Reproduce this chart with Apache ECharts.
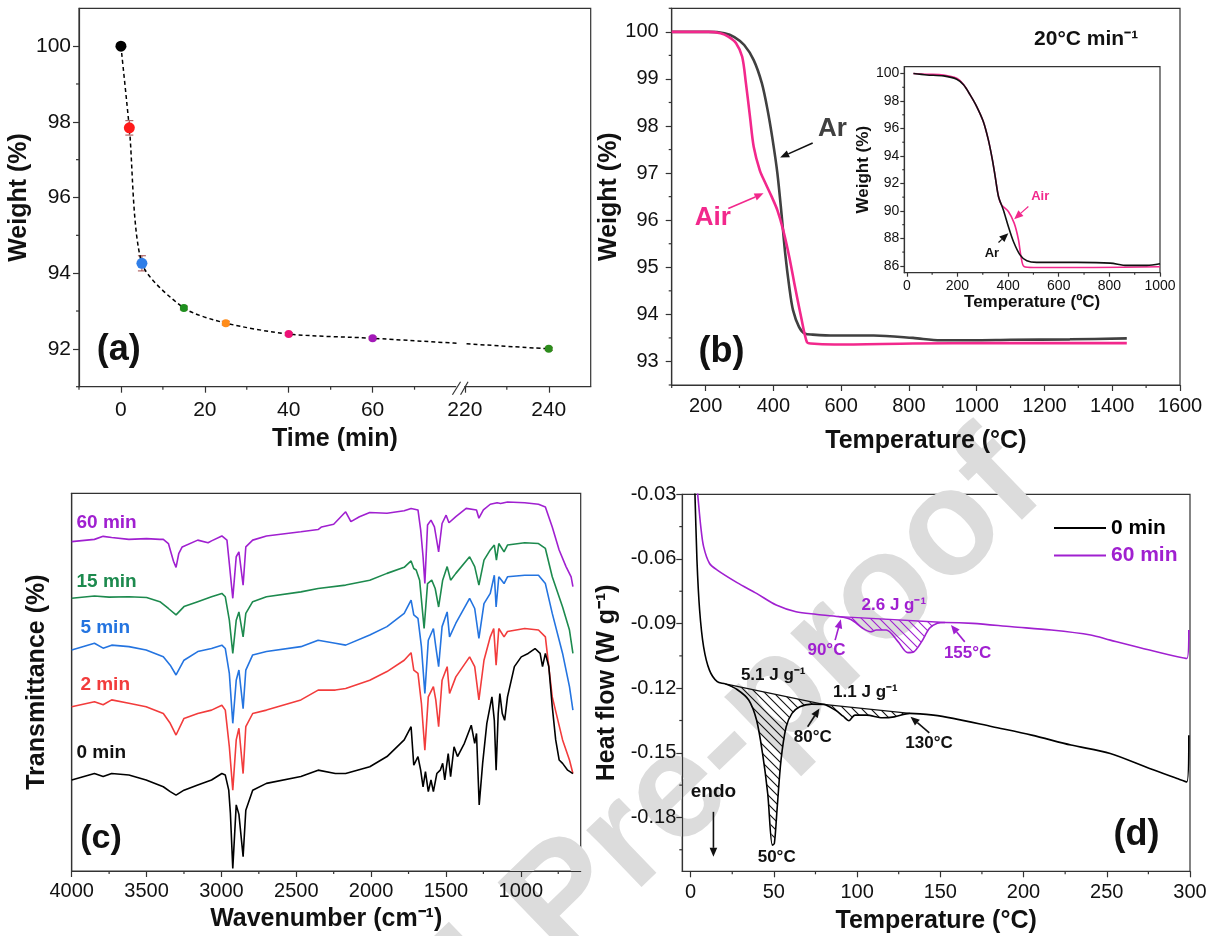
<!DOCTYPE html>
<html><head><meta charset="utf-8">
<script src="https://cdn.jsdelivr.net/npm/echarts@6/dist/echarts.min.js"></script>
<style>html,body{margin:0;padding:0;background:#fff}#c{width:1215px;height:936px}</style>
</head><body><div id="c"></div><script>
const FONT = '"Liberation Sans", Arial, sans-serif';
const NARROW = '"Liberation Sans Narrow", "Liberation Sans", Arial, sans-serif';
const AX = '#333';

// ---------- (a) weight vs time ----------
const aTimes  = [0, 2, 5, 15, 25, 40, 60, 240];
const aWeight = [100, 97.84, 94.26, 93.08, 92.68, 92.39, 92.28, 92.00];
const aErr    = [0.03, 0.19, 0.20, 0.05, 0.05, 0.04, 0.04, 0.04];
const aColors = ['#000000', '#ff1a1a', '#2f7ee8', '#1f8f1f', '#ff8c1a', '#ee1177', '#a319b8', '#2c8c1c'];
const aXTickTimes = [0, 20, 40, 60, 220, 240];
const aXMinorTimes = [-10, 10, 30, 50, 70, 230];
const aYTicks = [92, 94, 96, 98, 100];
const aYMinor = [91, 93, 95, 97, 99];
const BREAK_GAP = 138;               // axis break between 60 and 220 min
function aPos(t) { return t > 100 ? t - BREAK_GAP : t; }

// ---------- (b) TGA ----------
const bArT  = [100,209,256,285,314,342,366,383,398,412,424,435,447,458,476,493,516,580,696,812,893,986,1100,1275,1443];
const bArW  = [100,100,99.97,99.89,99.72,99.40,98.91,98.34,97.70,96.99,96.14,95.29,94.58,94.09,93.73,93.59,93.57,93.55,93.55,93.50,93.45,93.45,93.46,93.47,93.49];
const bAirT = [100,209,244,267,290,308,319,331,342,360,377,395,412,429,447,464,482,499,510,580,812,1043,1443];
const bAirW = [100,100,99.97,99.90,99.76,99.47,98.91,98.20,97.56,97.06,96.78,96.50,96.21,95.79,95.22,94.58,93.94,93.41,93.38,93.36,93.38,93.39,93.39];
const bXTicks = [200,400,600,800,1000,1200,1400,1600];
const bXMinor = [100,300,500,700,900,1100,1300,1500];
const bYTicks = [93,94,95,96,97,98,99,100];
const bYMinor = [92.5,93.5,94.5,95.5,96.5,97.5,98.5,99.5,100.5];
// inset
const iArT  = [26,79,145,197,224,250,276,302,322,338,349,362,381,401,421,447,474,513,671,803,869,948,1000];
const iArW  = [100,99.9,99.83,99.59,99.18,98.45,97.6,96.51,95.17,93.72,92.5,91.05,90.08,88.86,87.77,86.8,86.37,86.25,86.25,86.2,86.03,86.03,86.15];
const iAirT = [26,79,145,197,224,250,276,302,322,338,349,362,374,401,424,441,451,463,500,737,1000];
const iAirW = [100,99.95,99.9,99.66,99.2,98.45,97.6,96.51,95.17,93.72,92.5,91.05,90.44,89.96,89.11,87.9,86.68,85.95,85.88,85.88,85.93];
const iXTicks = [0,200,400,600,800,1000];
const iXMinor = [100,300,500,700,900];
const iYTicks = [86,88,90,92,94,96,98,100];
const iYMinor = [87,89,91,93,95,97,99];

// ---------- (c) FTIR (wavenumber, transmittance a.u.) ----------
const ftir60 = [[4000,87.2],[3848,87.8],[3790,88.6],[3733,88.3],[3618,87.8],[3500,88.0],[3411,87.8],[3388,87.8],[3354,86.7],[3320,82],[3303,80.4],[3285,84],[3262,85.8],[3158,87.6],[3089,86.9],[3066,87.4],[2997,88.7],[2963,87.6],[2947,81.4],[2924,72.2],[2901,83.2],[2883,84.5],[2855,75.7],[2837,85.8],[2791,87.6],[2699,88.7],[2469,89.8],[2354,90.4],[2331,91.1],[2250,91.8],[2170,95.1],[2135,92.5],[2078,93.8],[2009,94.9],[1894,94.7],[1779,95.4],[1733,96.0],[1687,95.6],[1669,90.3],[1653,83.2],[1641,76.1],[1623,91.6],[1600,92.9],[1577,91.1],[1549,84.5],[1526,92.0],[1499,94.2],[1480,92.2],[1434,93.8],[1365,96.0],[1296,95.6],[1280,93.4],[1250,95.6],[1204,97.1],[1158,97.5],[1135,97.3],[1089,97.7],[974,97.5],[882,97.1],[836,96.4],[790,91.1],[744,85.0],[698,80.6],[664,77.9],[652,75.3]];
const ftir15 = [[4000,72.2],[3848,72.8],[3750,72.5],[3618,72.6],[3500,72.4],[3411,71.3],[3354,69.5],[3303,67.8],[3250,70.0],[3158,71.3],[3066,72.6],[2997,73.5],[2974,72.6],[2947,66.4],[2924,57.6],[2901,66.4],[2883,68.6],[2855,62.0],[2837,68.2],[2791,71.3],[2699,72.6],[2469,73.9],[2354,74.8],[2170,75.7],[2009,77.0],[1894,78.8],[1779,80.4],[1733,82.1],[1715,80.1],[1699,79.7],[1676,77.0],[1646,64.2],[1623,76.1],[1595,77.0],[1572,74.8],[1549,69.9],[1522,77.0],[1492,80.6],[1469,77.0],[1434,78.8],[1342,83.2],[1308,80.6],[1280,75.7],[1246,82.3],[1204,85.0],[1177,86.3],[1163,82.3],[1147,86.7],[1112,84.5],[1089,86.3],[974,86.9],[882,86.7],[836,85.4],[790,77.9],[721,69.9],[675,63.8],[652,57.6]];
const ftir5 = [[4000,58.5],[3848,60.3],[3790,59.0],[3733,59.8],[3618,59.4],[3503,58.5],[3388,56.7],[3342,54.5],[3303,51.9],[3250,55.8],[3158,58.1],[3066,58.9],[2997,59.8],[2974,58.9],[2947,52.3],[2924,39.1],[2901,50.5],[2883,53.2],[2855,43.0],[2837,53.2],[2791,57.2],[2699,58.1],[2469,59.4],[2354,61.1],[2239,60.3],[2170,59.8],[2009,62.5],[1894,64.7],[1779,68.2],[1733,71.7],[1715,67.8],[1687,66.9],[1664,59.4],[1641,47.0],[1618,61.1],[1584,64.2],[1568,59.4],[1549,54.1],[1526,64.7],[1492,68.6],[1476,62.0],[1434,65.6],[1342,72.2],[1308,69.5],[1280,61.6],[1246,70.8],[1204,73.5],[1177,78.3],[1165,69.9],[1147,77.9],[1112,76.1],[1089,77.9],[974,78.3],[882,78.3],[836,76.1],[790,68.2],[721,57.6],[675,48.8],[652,42.6]];
const ftir2 = [[4000,43.5],[3848,44.8],[3790,44.0],[3733,45.3],[3618,44.4],[3503,43.5],[3388,41.7],[3342,39.1],[3303,36.0],[3250,40.4],[3158,41.7],[3066,42.6],[2997,43.9],[2974,42.6],[2947,32.9],[2924,21.4],[2901,34.7],[2883,37.8],[2855,25.8],[2837,38.2],[2791,41.7],[2699,42.6],[2469,45.3],[2354,47.9],[2239,47.9],[2170,48.3],[2009,50.5],[1894,52.8],[1779,55.8],[1733,57.8],[1715,53.2],[1687,52.3],[1664,44.4],[1641,32.0],[1618,46.1],[1584,48.8],[1568,45.3],[1549,38.2],[1526,50.5],[1492,54.1],[1476,47.0],[1434,51.4],[1342,56.7],[1308,54.1],[1280,45.3],[1246,55.8],[1204,62.0],[1181,64.2],[1165,54.5],[1147,64.2],[1112,62.0],[1089,63.4],[974,64.2],[882,63.8],[836,62.0],[790,46.1],[721,34.7],[675,29.4],[652,25.8]];
const ftir0 = [[4000,24.1],[3848,25.8],[3790,25.0],[3733,25.8],[3618,25.4],[3503,24.1],[3388,22.3],[3342,21.0],[3303,20.1],[3250,21.4],[3158,22.8],[3066,24.1],[2997,25.8],[2974,25.4],[2951,21.4],[2940,15.3],[2924,0.7],[2901,17.5],[2883,15.0],[2855,3.8],[2837,16.1],[2791,21.4],[2699,23.2],[2469,25.0],[2354,26.7],[2239,25.8],[2170,25.8],[2009,27.6],[1894,30.3],[1779,34.7],[1733,38.2],[1715,28.0],[1687,30.3],[1669,26.7],[1653,22.3],[1637,26.3],[1618,21.0],[1600,24.1],[1584,21.0],[1561,25.8],[1538,26.7],[1522,28.5],[1508,24.1],[1485,31.1],[1469,25.0],[1446,32.9],[1423,30.3],[1377,33.8],[1331,38.6],[1308,33.8],[1296,36.4],[1278,17.5],[1255,28.5],[1227,39.1],[1193,46.1],[1177,39.9],[1165,26.7],[1151,41.7],[1140,47.0],[1124,41.7],[1108,39.9],[1089,46.1],[1043,54.1],[997,56.7],[951,57.6],[905,58.9],[871,57.6],[855,54.1],[836,57.6],[813,54.1],[790,43.5],[767,34.7],[744,29.4],[721,28.5],[687,26.7],[652,25.8]];
const cXTicks = [4000,3500,3000,2500,2000,1500,1000];
const cXMinor = [3750,3250,2750,2250,1750,1250,750];

// ---------- (d) DSC ----------
const dscT0  = [2.2,2.6,3.8,5.4,7.8,11.3,16.0,20.8,27.9,34.9,39.6,43.2,46.3,49.1,50.3,51.9,54.3,57.4,60.9,65.6,72.7,79.8,86.9,91.6,95.1,98.7,105.7,115.2,122.3,131.7,145.9,157.7,181.3,204.9,228.5,252.1,275.7,292.2,298.1,299.3];
const dscV0  = [-0.025,-0.030,-0.0605,-0.0837,-0.1008,-0.1116,-0.117,-0.118,-0.1206,-0.1255,-0.1348,-0.1503,-0.1689,-0.1929,-0.1921,-0.1766,-0.1534,-0.1379,-0.1317,-0.1286,-0.1274,-0.1275,-0.1302,-0.1330,-0.1351,-0.1325,-0.1325,-0.1337,-0.1333,-0.1317,-0.1325,-0.134,-0.1379,-0.1418,-0.1464,-0.1503,-0.1573,-0.1619,-0.1635,-0.1418];
const dscT60 = [3.6,4.25,6.1,7.8,11.3,16.0,27.9,39.6,51.4,63.3,75.1,89.2,96.3,103.4,108.1,111.6,117.5,124.6,130.5,134.1,138.8,143.5,148.2,152.9,169.5,193.1,216.7,240.3,252.1,275.7,298.1,299.3];
const dscV60 = [-0.025,-0.030,-0.045,-0.0543,-0.062,-0.0652,-0.071,-0.076,-0.0814,-0.0845,-0.0857,-0.0868,-0.0881,-0.0922,-0.0938,-0.093,-0.093,-0.0984,-0.1035,-0.1031,-0.0984,-0.0922,-0.0899,-0.0895,-0.0899,-0.0915,-0.093,-0.0953,-0.0977,-0.1023,-0.1062,-0.093];
const base0a = [[20.8,-0.118],[79.8,-0.1275]];
const base0b = [[79.8,-0.1275],[131.7,-0.1317]];
const base60 = [[89.2,-0.0868],[152.9,-0.0895]];
const dXTicks = [0,50,100,150,200,250,300];
const dXMinor = [25,75,125,175,225,275];
const dYTicks = [-0.03,-0.06,-0.09,-0.12,-0.15,-0.18];
const dYMinor = [-0.045,-0.075,-0.105,-0.135,-0.165,-0.195];

const PURPLE = '#a020d0', GREEN = '#1d8a4e', BLUE = '#2474e0', RED = '#f23c3c', PINK = '#f2288c', DARK = '#404040';

// ---------- helpers ----------
function nameStyle(fs) { return {fontSize: fs, fontWeight: 'bold', fontFamily: FONT, color: '#111'}; }
function mkAxis(g, dim, min, max, ticks, labels, o) {
  return {
    type: 'value', gridIndex: g, min: min, max: max, inverse: !!o.inverse,
    position: dim === 'x' ? 'bottom' : 'left',
    axisLine: {show: true, onZero: false, lineStyle: {color: AX, width: 1.2}},
    axisTick: {show: ticks.length > 0, length: o.tl || 6, customValues: ticks.length ? ticks : undefined, lineStyle: {color: AX, width: 1.2}},
    axisLabel: {show: labels.length > 0, customValues: labels.length ? labels : undefined, formatter: o.fmt || (v => String(v)),
      fontSize: o.fs || 20, color: '#111', margin: o.margin, fontFamily: FONT},
    splitLine: {show: false},
    name: o.name, nameLocation: 'middle', nameGap: o.gap, nameTextStyle: nameStyle(o.nfs || 25)
  };
}
function minorTicks(g, dim, values, other, len) {
  return {type: 'custom', xAxisIndex: g, yAxisIndex: g, silent: true, clip: false, z: 3,
    data: values.map(v => dim === 'x' ? [v, other] : [other, v]),
    renderItem: (p, api) => {
      const c = api.coord([api.value(0), api.value(1)]);
      const shape = dim === 'x' ? {x1: c[0], y1: c[1], x2: c[0], y2: c[1] + len}
                                : {x1: c[0], y1: c[1], x2: c[0] - len, y2: c[1]};
      return {type: 'line', shape: shape, style: {stroke: AX, lineWidth: 1.2}};
    }};
}
function hatchCanvas(color) {
  const s = 9, c = document.createElement('canvas'); c.width = s; c.height = s;
  const g = c.getContext('2d'); g.strokeStyle = color; g.lineWidth = 1.1;
  g.beginPath(); g.moveTo(0, 0); g.lineTo(s, s); g.moveTo(s - 1, -1); g.lineTo(s + 1, 1); g.moveTo(-1, s - 1); g.lineTo(1, s + 1); g.stroke();
  return c;
}
function hatchSeries(g, T, V, base, color) {
  const pts = [];
  for (let i = 0; i < T.length; i++) if (T[i] > base[0][0] && T[i] < base[1][0]) pts.push([T[i], V[i]]);
  const img = hatchCanvas(color);
  return {type: 'custom', xAxisIndex: g, yAxisIndex: g, silent: true, z: 1, data: [base[0]],
    renderItem: (p, api) => {
      const poly = [api.coord(base[0])].concat(pts.map(q => api.coord(q)), [api.coord(base[1])]);
      const b0 = api.coord(base[0]), b1 = api.coord(base[1]);
      return {type: 'group', children: [
        {type: 'polygon', shape: {points: poly}, style: {fill: {image: img, repeat: 'repeat'}, stroke: null}},
        {type: 'line', shape: {x1: b0[0], y1: b0[1], x2: b1[0], y2: b1[1]}, style: {stroke: color, lineWidth: 1.3}}
      ]};
    }};
}
function zip(T, V) { return T.map((t, i) => [t, V[i]]); }

// ---------- grids ----------
const grids = [
  {left: 79, top: 8.3, width: 511.7, height: 378.4},
  {left: 671.7, top: 8.3, width: 508.3, height: 376.7},
  {left: 904.3, top: 66.7, width: 255.7, height: 206, backgroundColor: '#fff'},
  {left: 71.7, top: 493.3, width: 509, height: 377.7},
  {left: 682.3, top: 494.3, width: 507.7, height: 377}
].map(g => Object.assign({show: true, borderColor: AX, borderWidth: 1.2, containLabel: false}, g));

const xAxes = [
  mkAxis(0, 'x', -10, 112, aXTickTimes.map(aPos), aXTickTimes.map(aPos), {fmt: v => String(v > 70 ? v + BREAK_GAP : v), fs: 21, margin: 13, name: 'Time (min)', gap: 40}),
  mkAxis(1, 'x', 100, 1600, bXTicks, bXTicks, {margin: 11, name: 'Temperature (°C)', gap: 44}),
  mkAxis(2, 'x', -10, 1000, iXTicks, iXTicks, {fs: 14, margin: 6, tl: 4, name: 'Temperature (ºC)', nfs: 17, gap: 20}),
  mkAxis(3, 'x', 600, 4000, cXTicks, cXTicks, {inverse: true, margin: 10, name: 'Wavenumber (cm⁻¹)', gap: 36}),
  mkAxis(4, 'x', -5, 300, dXTicks, dXTicks, {margin: 11, name: 'Temperature (°C)', gap: 37}),
];
const yAxes = [
  mkAxis(0, 'y', 91, 101, aYTicks, aYTicks, {fs: 21, margin: 8, name: 'Weight (%)', gap: 44}),
  mkAxis(1, 'y', 92.5, 100.5, bYTicks, bYTicks, {margin: 13, name: 'Weight (%)', gap: 47}),
  mkAxis(2, 'y', 85.5, 100.5, iYTicks, iYTicks, {fs: 14, margin: 5, tl: 4, name: 'Weight (%)', nfs: 17, gap: 26}),
  mkAxis(3, 'y', 0, 100, [], [], {name: 'Transmittance (%)', gap: 22}),
  mkAxis(4, 'y', -0.205, -0.03, dYTicks, dYTicks, {fmt: v => v.toFixed(2), margin: 6, name: 'Heat flow (W g⁻¹)', gap: 63}),
];

// ---------- series ----------
const series = [];
const SI = {};
// (a)
SI.a = series.length;
series.push({type: 'custom', xAxisIndex: 0, yAxisIndex: 0, silent: true, z: 3,
  data: aTimes.map((t, i) => [aPos(t), aWeight[i], aErr[i]]),
  renderItem: (p, api) => {
    const x = api.value(0), y = api.value(1), e = api.value(2);
    const hi = api.coord([x, y + e]), lo = api.coord([x, y - e]);
    const st = {stroke: '#a04848', lineWidth: 1};
    return {type: 'group', children: [
      {type: 'line', shape: {x1: hi[0], y1: hi[1], x2: lo[0], y2: lo[1]}, style: st},
      {type: 'line', shape: {x1: hi[0] - 4, y1: hi[1], x2: hi[0] + 4, y2: hi[1]}, style: st},
      {type: 'line', shape: {x1: lo[0] - 4, y1: lo[1], x2: lo[0] + 4, y2: lo[1]}, style: st}
    ]};
  }});
series.push({type: 'line', name: 'weight', xAxisIndex: 0, yAxisIndex: 0, smooth: 0.25, z: 4,
  lineStyle: {color: '#000', width: 1.5, type: [4, 3]}, symbol: 'circle',
  data: aTimes.map((t, i) => ({value: [aPos(t), aWeight[i]], symbolSize: i < 3 ? 11 : 8, itemStyle: {color: aColors[i]}}))});
series.push(minorTicks(0, 'x', aXMinorTimes.map(aPos), 91, 3));
series.push(minorTicks(0, 'y', aYMinor, -10, 3));
// (b)
SI.b = series.length;
series.push({type: 'line', name: 'Ar', xAxisIndex: 1, yAxisIndex: 1, symbol: 'none', smooth: 0.3, lineStyle: {color: DARK, width: 2.6}, data: zip(bArT, bArW)});
series.push({type: 'line', name: 'Air', xAxisIndex: 1, yAxisIndex: 1, symbol: 'none', smooth: 0.3, lineStyle: {color: PINK, width: 2.6}, data: zip(bAirT, bAirW)});
series.push(minorTicks(1, 'x', bXMinor, 92.5, 3));
series.push(minorTicks(1, 'y', bYMinor, 100, 3));
SI.i = series.length;
series.push({type: 'line', name: 'Air (inset)', xAxisIndex: 2, yAxisIndex: 2, symbol: 'none', smooth: 0.3, lineStyle: {color: PINK, width: 1.6}, data: zip(iAirT, iAirW)});
series.push({type: 'line', name: 'Ar (inset)', xAxisIndex: 2, yAxisIndex: 2, symbol: 'none', smooth: 0.3, lineStyle: {color: '#111', width: 1.6}, data: zip(iArT, iArW)});
series.push(minorTicks(2, 'x', iXMinor, 85.5, 2));
series.push(minorTicks(2, 'y', iYMinor, -10, 2));
// (c)
SI.c = series.length;
[[ftir60, PURPLE, '60 min'], [ftir15, GREEN, '15 min'], [ftir5, BLUE, '5 min'], [ftir2, RED, '2 min'], [ftir0, '#000', '0 min']].forEach(s => {
  series.push({type: 'line', name: 'FTIR ' + s[2], xAxisIndex: 3, yAxisIndex: 3, symbol: 'none', lineStyle: {color: s[1], width: 1.6}, data: s[0]});
});
series.push(minorTicks(3, 'x', cXMinor, 0, 3));
// (d)
SI.d = series.length;
series.push(hatchSeries(4, dscT0, dscV0, base0a, '#111'));
series.push(hatchSeries(4, dscT0, dscV0, base0b, '#111'));
series.push(hatchSeries(4, dscT60, dscV60, base60, PURPLE));
series.push({type: 'line', name: '0 min', xAxisIndex: 4, yAxisIndex: 4, symbol: 'none', smooth: 0.3, z: 4, lineStyle: {color: '#000', width: 1.6}, itemStyle: {color: '#000'}, data: zip(dscT0, dscV0)});
series.push({type: 'line', name: '60 min', xAxisIndex: 4, yAxisIndex: 4, symbol: 'none', smooth: 0.3, z: 4, lineStyle: {color: PURPLE, width: 1.6}, itemStyle: {color: PURPLE}, data: zip(dscT60, dscV60)});
series.push(minorTicks(4, 'x', dXMinor, -0.205, 3));
series.push(minorTicks(4, 'y', dYMinor, -5, 3));

const chart = echarts.init(document.getElementById('c'), null, {renderer: 'canvas'});
chart.setOption({
  animation: false, backgroundColor: '#fff',
  textStyle: {fontFamily: FONT},
  grid: grids, xAxis: xAxes, yAxis: yAxes, series: series,
  legend: {orient: 'vertical', left: 1049, top: 512, itemWidth: 52, itemHeight: 2, itemGap: 5.4, icon: 'rect',
    data: [{name: '0 min', textStyle: {color: '#000'}}, {name: '60 min', textStyle: {color: PURPLE}}],
    textStyle: {fontSize: 21, fontWeight: 'bold', fontFamily: FONT, lineHeight: 22}, selectedMode: false}
});

// ---------- annotations ----------
const px = (si, pt) => chart.convertToPixel({seriesIndex: si}, pt);
const els = [];
function txt(si, pt, s, font, color, align) {
  const p = px(si, pt);
  els.push({type: 'text', x: p[0], y: p[1], z: 100, silent: true,
    style: {text: s, font: font, fill: color, align: align || 'center', verticalAlign: 'middle', textAlign: align || 'center', textVerticalAlign: 'middle'}});
}
function arrow(si, a, b, color, w) {
  const p0 = px(si, a), p1 = px(si, b);
  const ang = Math.atan2(p1[1] - p0[1], p1[0] - p0[0]);
  const L = 9, W = 3.8;
  const bx = p1[0] - L * Math.cos(ang), by = p1[1] - L * Math.sin(ang);
  els.push({type: 'line', z: 100, silent: true, shape: {x1: p0[0], y1: p0[1], x2: bx, y2: by}, style: {stroke: color, lineWidth: w || 1.6}});
  els.push({type: 'polygon', z: 100, silent: true, shape: {points: [p1, [bx + W * Math.sin(ang), by - W * Math.cos(ang)], [bx - W * Math.sin(ang), by + W * Math.cos(ang)]]}, style: {fill: color}});
}
const B = s => 'bold ' + s + 'px ' + FONT;
const BN = s => 'bold ' + s + 'px ' + NARROW;

// watermark
els.push({type: 'text', x: 1071, y: 519, rotation: 44 * Math.PI / 180, z: 0, silent: true,
  style: {text: 'Journal Pre-proof', font: 'bold 150px ' + FONT, fill: '#dcdcdc', align: 'right', verticalAlign: 'bottom', textAlign: 'right', textVerticalAlign: 'bottom'}});

// (a)
txt(SI.a, [-0.5, 91.97], '(a)', B(36), '#111');
{
  const c = px(SI.a, [80.9, 91]);
  els.push({type: 'rect', z: 100, shape: {x: c[0] - 4, y: c[1] - 2, width: 8, height: 4}, style: {fill: '#fff'}});
  els.push({type: 'line', z: 101, shape: {x1: c[0] - 7.8, y1: c[1] + 8, x2: c[0] + 0.3, y2: c[1] - 5}, style: {stroke: AX, lineWidth: 1.2}});
  els.push({type: 'line', z: 101, shape: {x1: c[0] + 0.3, y1: c[1] + 8, x2: c[0] + 7.8, y2: c[1] - 5}, style: {stroke: AX, lineWidth: 1.2}});
  const g0 = px(SI.a, [80.4, 92.27]), g1 = px(SI.a, [81.9, 92.03]);
  els.push({type: 'rect', z: 100, shape: {x: g0[0], y: g0[1], width: g1[0] - g0[0], height: g1[1] - g0[1]}, style: {fill: '#fff'}});
}
// (b)
txt(SI.b, [574, 97.95], 'Ar', B(26), DARK);
arrow(SI.b, [516, 97.64], [420, 97.33], '#111');
txt(SI.b, [221, 96.04], 'Air', B(26), PINK);
arrow(SI.b, [267, 96.25], [371, 96.57], PINK);
txt(SI.b, [1323, 99.84], '20°C min⁻¹', B(21), '#111');
txt(SI.b, [247, 93.2], '(b)', B(36), '#111');
txt(SI.i, [527, 91.05], 'Air', B(13), PINK);
arrow(SI.i, [480, 90.32], [424, 89.40], PINK, 1.2);
txt(SI.i, [336, 86.93], 'Ar', B(13), '#111');
arrow(SI.i, [362, 87.7], [401, 88.38], '#111', 1.2);
// (c)
txt(SI.c, [3968, 92.1], '60 min', B(19), PURPLE, 'left');
txt(SI.c, [3968, 76.6], '15 min', B(19), GREEN, 'left');
txt(SI.c, [3942, 64.3], '5 min', B(19), BLUE, 'left');
txt(SI.c, [3942, 49.2], '2 min', B(19), RED, 'left');
txt(SI.c, [3968, 31.2], '0 min', B(19), '#111', 'left');
txt(SI.c, [3804, 8.7], '(c)', B(34), '#111');
// (d)
txt(SI.d, [122.1, -0.0814], '2.6 J g⁻¹', BN(17), PURPLE);
txt(SI.d, [81.6, -0.1026], '90°C', BN(17), PURPLE);
arrow(SI.d, [86.8, -0.0977], [90.25, -0.0880], PURPLE);
txt(SI.d, [166.4, -0.1038], '155°C', BN(17), PURPLE);
arrow(SI.d, [164.7, -0.0985], [156.4, -0.0907], PURPLE);
txt(SI.d, [49.6, -0.1139], '5.1 J g⁻¹', BN(17), '#111');
txt(SI.d, [105, -0.1217], '1.1 J g⁻¹', BN(17), '#111');
txt(SI.d, [73.4, -0.1428], '80°C', BN(17), '#111');
arrow(SI.d, [70.3, -0.1379], [77.4, -0.1294], '#111');
txt(SI.d, [143.2, -0.1454], '130°C', BN(17), '#111');
arrow(SI.d, [143.4, -0.1407], [132.1, -0.1333], '#111');
txt(SI.d, [51.7, -0.1983], '50°C', BN(17), '#111');
txt(SI.d, [13.7, -0.1681], 'endo', B(19), '#111');
arrow(SI.d, [13.7, -0.1774], [13.7, -0.1983], '#111');
txt(SI.d, [267.8, -0.1882], '(d)', B(36), '#111');

chart.setOption({graphic: {elements: els}});
</script></body></html>
